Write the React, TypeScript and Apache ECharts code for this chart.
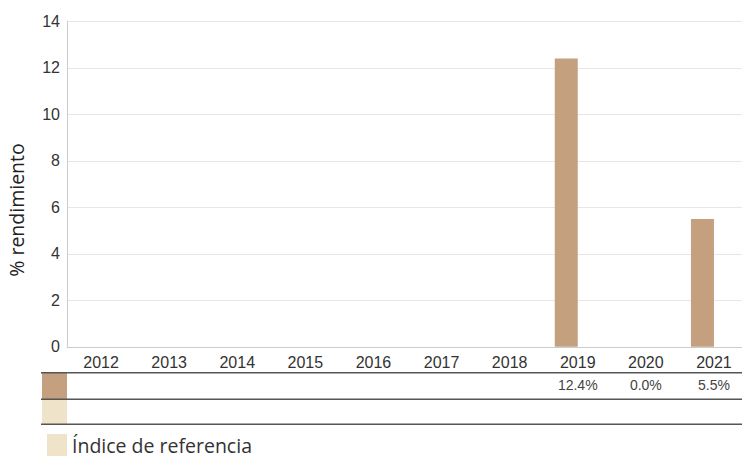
import React, { useEffect, useRef } from "react";
import * as echarts from "echarts";

const years = ["2012", "2013", "2014", "2015", "2016", "2017", "2018", "2019", "2020", "2021"];
const fundValues: (number | null)[] = [null, null, null, null, null, null, null, 12.4, 0.0, 5.5];
const indexValues: (number | null)[] = [null, null, null, null, null, null, null, null, null, null];
const yTicks = [0, 2, 4, 6, 8, 10, 12, 14];
const fundName = "Fondo";
const indexName = "Índice de referencia";
const yTitle = "% rendimiento";

const FUND_COLOR = "#c4a07f";
const INDEX_COLOR = "#efe3c9";

export default function App() {
  const ref = useRef<HTMLDivElement>(null);
  useEffect(() => {
    if (!ref.current) return;
    const chart = echarts.init(ref.current, undefined, { renderer: "svg" });
    const fmt = (v: number | null) => (v === null ? "" : v.toFixed(1) + "%");
    const tableLine = (y: number) => ({
      type: "line",
      shape: { x1: 41, y1: y, x2: 748, y2: y },
      style: { stroke: "#555", lineWidth: 1.5 },
      silent: true,
    });
    chart.setOption({
      animation: false,
      grid: { left: 67, right: 0, top: 21.3, bottom: 110.2, containLabel: false },
      legend: {
        data: [{ name: indexName, icon: "rect" }],
        left: 42,
        top: 429,
        itemWidth: 20,
        itemHeight: 22,
        itemGap: 6,
        textStyle: { fontFamily: "Open Sans", fontSize: 19.5, color: "#333" },
        selectedMode: false,
      },
      xAxis: [
        {
          type: "category",
          data: years,
          axisLine: { lineStyle: { color: "#ccc" } },
          axisTick: { show: false },
          axisLabel: { fontFamily: "Liberation Sans", fontSize: 16, color: "#333", margin: 8 },
        },
        {
          type: "category",
          data: fundValues.map(fmt),
          position: "bottom",
          offset: 23,
          axisLine: { show: false },
          axisTick: { show: false },
          axisLabel: { fontFamily: "Liberation Sans", fontSize: 14, color: "#444", margin: 8, interval: 0 },
        },
      ],
      yAxis: {
        type: "value",
        min: yTicks[0],
        max: yTicks[yTicks.length - 1],
        interval: 2,
        axisLine: { show: true, lineStyle: { color: "#ccc" } },
        axisTick: { show: false },
        splitLine: { lineStyle: { color: "#e6e6e6" } },
        axisLabel: { fontFamily: "Liberation Sans", fontSize: 16, color: "#333", margin: 7 },
      },
      series: [
        {
          name: fundName,
          type: "bar",
          data: fundValues,
          barWidth: 23,
          barGap: "0%",
          itemStyle: { color: FUND_COLOR },
          xAxisIndex: 0,
        },
        {
          name: indexName,
          type: "bar",
          data: indexValues,
          barWidth: 23,
          barGap: "0%",
          itemStyle: { color: INDEX_COLOR },
          xAxisIndex: 0,
        },
      ],
      graphic: [
        {
          type: "text",
          x: 16,
          y: 210,
          rotation: Math.PI / 2,
          style: {
            text: yTitle,
            fontFamily: "Open Sans",
            fontSize: 19.5,
            fill: "#222",
            align: "center",
            verticalAlign: "middle",
          },
          silent: true,
        },
        { type: "rect", shape: { x: 42, y: 373, width: 25, height: 26 }, style: { fill: FUND_COLOR }, silent: true },
        { type: "rect", shape: { x: 42, y: 400, width: 25, height: 24 }, style: { fill: INDEX_COLOR }, silent: true },
        tableLine(372.7),
        tableLine(399.3),
        tableLine(424.3),
      ],
    });
    return () => chart.dispose();
  }, []);
  return (
    <div style={{ position: "absolute", left: 0, top: 0, width: 742, height: 457, overflow: "hidden", background: "#fff" }}>
      <div ref={ref} style={{ width: 748, height: 457 }} />
    </div>
  );
}
